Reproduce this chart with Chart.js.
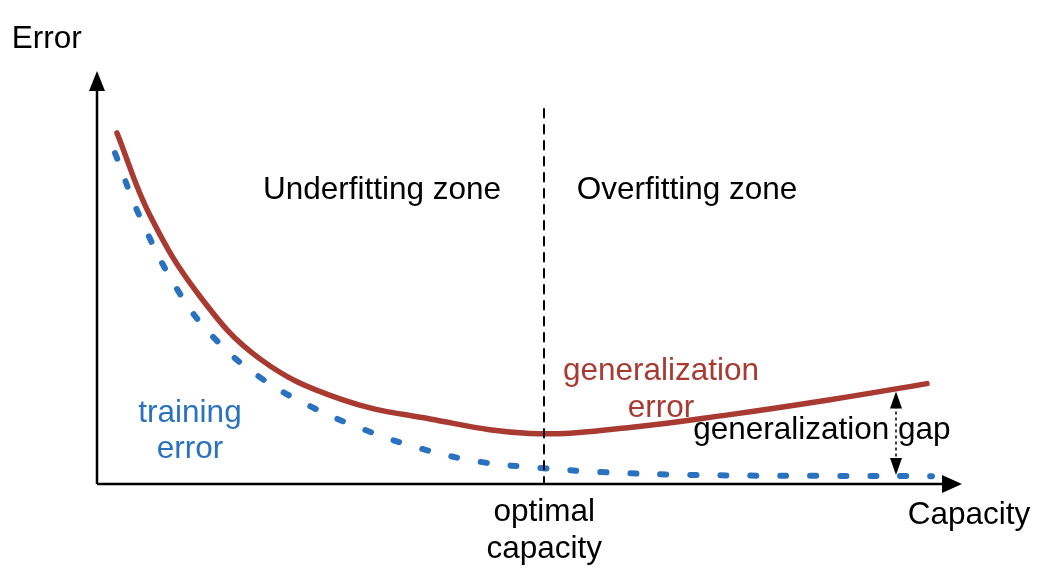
<!DOCTYPE html>
<html>
<head>
<meta charset="utf-8">
<title>Capacity vs Error</title>
<script src="https://cdn.jsdelivr.net/npm/chart.js@4/dist/chart.umd.min.js"></script>
<style>
  html, body { margin: 0; padding: 0; background: #fff; }
  #wrap { width: 1042px; height: 571px; }
</style>
</head>
<body>
<div id="wrap"><canvas id="chart" width="1042" height="571"></canvas></div>
<script>
// capacity (x) vs error (y), both on a 0..100 scale
const genCapacity = [2.31, 6.13, 11.91, 18.84, 28.09, 38.5, 50.06, 61.62, 73.18, 84.74, 95.95];
const genError    = [85.0, 65.0, 45.4, 30.3, 20.6, 15.75, 12.25, 13.7, 16.8, 20.4, 24.3];

const trainCapacity = [2.08, 4.97, 9.31, 13.47, 18.73, 24.68, 30.98, 37.57, 44.51, 51.21, 58.15, 68.55, 85.66, 96.53];
const trainError    = [80.15, 64.65, 47.0, 35.5, 26.0, 18.8, 13.1, 8.5, 5.3, 3.9, 2.9, 2.2, 1.95, 1.9];

const optimalCapacity = 51.7;
const gapCapacity = 92.4;

// text labels: [text, x, y, color]
const labels = [
  ['Error', -5.8, 107.7, '#000'],
  ['Capacity', 100.8, -7.5, '#000'],
  ['Underfitting zone', 32.95, 71.0, '#000'],
  ['Overfitting zone', 68.2, 71.0, '#000'],
  ['optimal', 51.7, -6.8, '#000'],
  ['capacity', 51.7, -15.7, '#000'],
  ['training', 10.75, 17.0, '#2a72c0'],
  ['error', 10.75, 8.3, '#2a72c0'],
  ['generalization', 65.2, 27.3, '#a83a32'],
  ['error', 65.2, 18.4, '#a83a32'],
  ['generalization gap', 83.8, 13.0, '#000'],
];

const FONT = '31.5px Helvetica, "Liberation Sans", Arial, sans-serif';

function toPoints(xs, ys) {
  return xs.map((x, i) => ({ x: x, y: ys[i] }));
}

function arrowHead(ctx, tipX, tipY, dx, dy, len, half) {
  // dx,dy = unit direction the arrow points to
  const bx = tipX - dx * len;
  const by = tipY - dy * len;
  ctx.beginPath();
  ctx.moveTo(tipX, tipY);
  ctx.lineTo(bx - dy * half, by + dx * half);
  ctx.lineTo(bx + dy * half, by - dx * half);
  ctx.closePath();
  ctx.fill();
}

// axes with arrows, drawn under the curves
const axesPlugin = {
  id: 'axesArrows',
  beforeDatasetsDraw(chart) {
    const { ctx, chartArea } = chart;
    ctx.save();
    ctx.strokeStyle = '#000';
    ctx.fillStyle = '#000';
    ctx.lineWidth = 2.5;
    ctx.beginPath();
    ctx.moveTo(chartArea.left, chartArea.bottom);
    ctx.lineTo(chartArea.left, chartArea.top + 10);
    ctx.moveTo(chartArea.left, chartArea.bottom);
    ctx.lineTo(chartArea.right - 10, chartArea.bottom);
    ctx.stroke();
    arrowHead(ctx, chartArea.left, chartArea.top, 0, -1, 20, 8);
    arrowHead(ctx, chartArea.right, chartArea.bottom, 1, 0, 20, 9);
    ctx.restore();
  },
};

// dashed optimal line, gap arrow and labels, drawn on top
const notesPlugin = {
  id: 'notes',
  afterDatasetsDraw(chart) {
    const { ctx, chartArea } = chart;
    const xs = chart.scales.x;
    const ys = chart.scales.y;
    ctx.save();

    // optimal capacity
    const ox = Math.round(xs.getPixelForValue(optimalCapacity));
    ctx.strokeStyle = '#000';
    ctx.lineWidth = 2;
    ctx.setLineDash([10, 6]);
    ctx.beginPath();
    ctx.moveTo(ox, ys.getPixelForValue(91));
    ctx.lineTo(ox, chartArea.bottom);
    ctx.stroke();

    // generalization gap arrow
    const gx = Math.round(xs.getPixelForValue(gapCapacity));
    const gTop = ys.getPixelForValue(22.4);
    const gBot = ys.getPixelForValue(2.2);
    ctx.lineWidth = 1.5;
    ctx.setLineDash([3, 3]);
    ctx.beginPath();
    ctx.moveTo(gx, gTop + 14);
    ctx.lineTo(gx, gBot - 14);
    ctx.stroke();
    ctx.setLineDash([]);
    ctx.fillStyle = '#000';
    arrowHead(ctx, gx, gTop, 0, -1, 17, 6);
    arrowHead(ctx, gx, gBot, 0, 1, 17, 6);

    // labels
    ctx.font = FONT;
    ctx.textAlign = 'center';
    ctx.textBaseline = 'middle';
    labels.forEach(([text, x, y, color]) => {
      ctx.fillStyle = color;
      ctx.fillText(text, xs.getPixelForValue(x), ys.getPixelForValue(y));
    });
    ctx.restore();
  },
};

new Chart(document.getElementById('chart'), {
  type: 'line',
  data: {
    datasets: [
      {
        label: 'generalization error',
        data: toPoints(genCapacity, genError),
        borderColor: '#a83a32',
        borderWidth: 5.5,
        borderCapStyle: 'round',
        pointRadius: 0,
        tension: 0.4,
      },
      {
        label: 'training error',
        data: toPoints(trainCapacity, trainError),
        borderColor: '#2a72c0',
        borderWidth: 6,
        borderDash: [6, 24],
        borderCapStyle: 'round',
        pointRadius: 0,
        tension: 0.4,
      },
    ],
  },
  options: {
    responsive: false,
    animation: false,
    layout: { padding: { left: 97, right: 80, top: 71, bottom: 87 } },
    plugins: {
      legend: { display: false },
      tooltip: { enabled: false },
    },
    scales: {
      x: { type: 'linear', min: 0, max: 100, display: false },
      y: { min: 0, max: 100, display: false },
    },
  },
  plugins: [axesPlugin, notesPlugin],
});
</script>
</body>
</html>
